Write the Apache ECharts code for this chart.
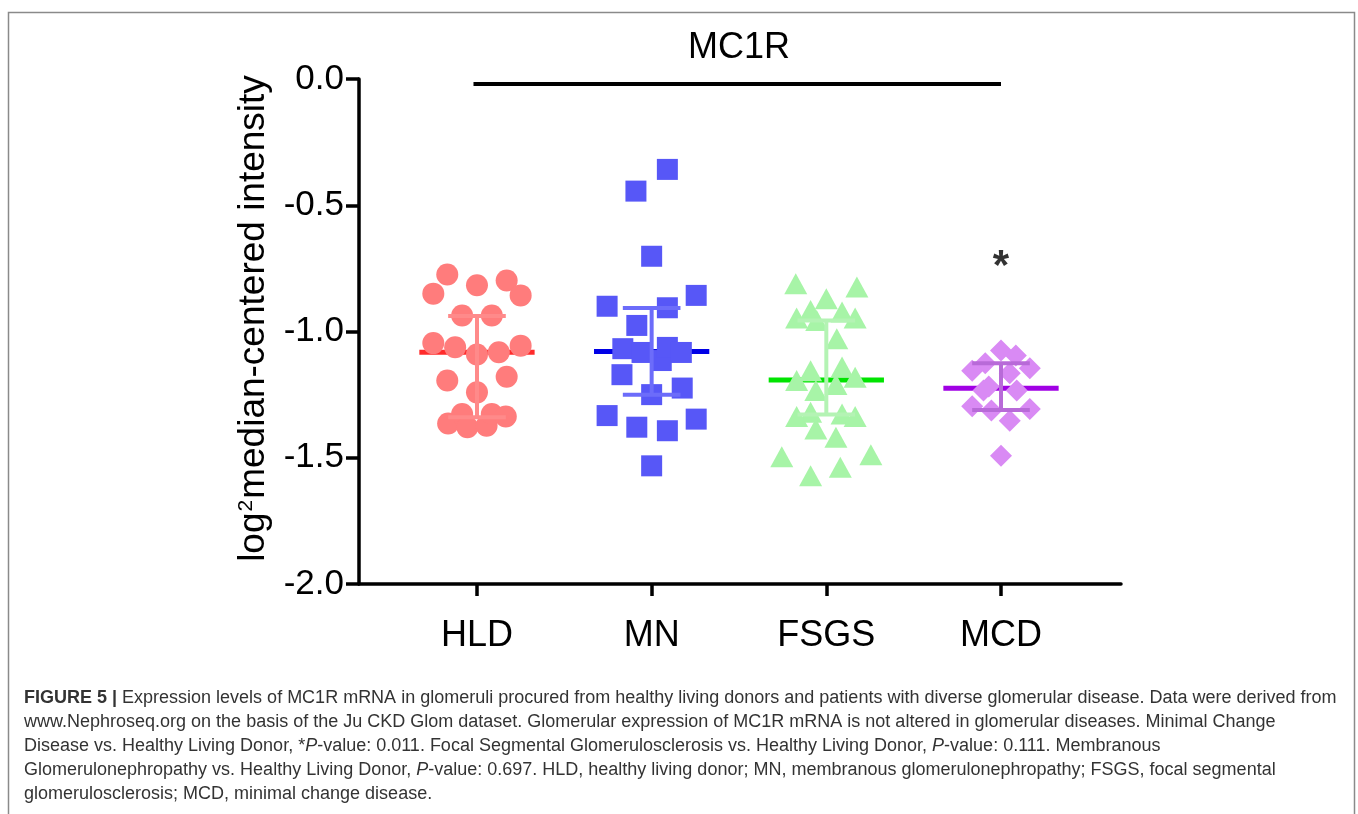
<!DOCTYPE html>
<html>
<head>
<meta charset="utf-8">
<script src="https://cdn.jsdelivr.net/npm/echarts@6/dist/echarts.min.js"></script>
<style>
html,body{margin:0;padding:0;background:#fff;}
#chart{width:1358px;height:814px;}
</style>
</head>
<body>
<div id="chart"></div>
<script>
// ---------------- data ----------------
const categories = ['HLD', 'MN', 'FSGS', 'MCD'];
const chartTitle = 'MC1R';
const yTicks = [0, -0.5, -1.0, -1.5, -2.0];

// horizontal scatter offsets (in category units) and values
const hldOffsets = [-0.17, -0.25, 0, 0.17, 0.25, -0.085, 0.085, -0.25, -0.125, 0, 0.125, 0.25, -0.17, 0.17, 0, -0.165, -0.085, -0.055, 0.055, 0.085, 0.165];
const hldValues  = [-0.774, -0.850, -0.817, -0.798, -0.857, -0.937, -0.937, -1.046, -1.062, -1.091, -1.082, -1.056, -1.194, -1.179, -1.241, -1.364, -1.327, -1.379, -1.373, -1.327, -1.337];

const mnOffsets = [0.09, -0.09, 0, 0.255, -0.255, 0.09, -0.085, -0.165, -0.055, 0.055, 0.09, 0.17, -0.17, 0.175, 0, -0.255, -0.085, 0.09, 0.255, 0];
const mnValues  = [-0.358, -0.444, -0.702, -0.857, -0.900, -0.906, -0.976, -1.068, -1.083, -1.115, -1.063, -1.083, -1.171, -1.224, -1.250, -1.333, -1.379, -1.393, -1.347, -1.532];

const fsgsOffsets = [-0.175, 0.175, 0, -0.09, 0.09, -0.17, 0.165, -0.055, 0.06, -0.09, 0.09, -0.17, 0.165, 0.055, -0.06, -0.09, -0.17, 0.09, 0.165, -0.06, 0.055, -0.255, 0.255, 0.08, -0.09];
const fsgsValues  = [-0.811, -0.824, -0.870, -0.917, -0.923, -0.947, -0.947, -0.956, -1.029, -1.155, -1.141, -1.194, -1.181, -1.210, -1.234, -1.320, -1.337, -1.327, -1.337, -1.386, -1.419, -1.496, -1.488, -1.538, -1.571];

const mcdOffsets = [0, 0.085, -0.09, -0.165, 0.165, 0.05, -0.07, -0.10, 0.09, -0.165, -0.055, 0.165, 0.05, 0];
const mcdValues  = [-1.075, -1.095, -1.126, -1.155, -1.146, -1.165, -1.218, -1.234, -1.234, -1.296, -1.313, -1.307, -1.353, -1.492];

// median and interquartile range per group
const medians = [-1.082, -1.079, -1.192, -1.225];
const q1s     = [-1.340, -1.250, -1.329, -1.311];
const q3s     = [-0.939, -0.907, -0.956, -1.126];

// significance bracket and marker
const bracketFrom = 1, bracketTo = 4, bracketValue = -0.02;
const sigMarks = [[4, -0.71]];
const sigText = '*';

// caption
const captionLines = [
  '{b|FIGURE 5 |} Expression levels of MC1R mRNA in glomeruli procured from healthy living donors and patients with diverse glomerular disease. Data were derived from',
  'www.Nephroseq.org on the basis of the Ju CKD Glom dataset. Glomerular expression of MC1R mRNA is not altered in glomerular diseases. Minimal Change',
  'Disease vs. Healthy Living Donor, *{i|P}-value: 0.011. Focal Segmental Glomerulosclerosis vs. Healthy Living Donor, {i|P}-value: 0.111. Membranous',
  'Glomerulonephropathy vs. Healthy Living Donor, {i|P}-value: 0.697. HLD, healthy living donor; MN, membranous glomerulonephropathy; FSGS, focal segmental',
  'glomerulosclerosis; MCD, minimal change disease.'
];

// ---------------- styling ----------------
const FONT = '"Liberation Sans", Arial, Helvetica, sans-serif';
const pointColors  = ['#FF7C7C', '#5757F7', '#A7F4A7', '#D98AF4'];
const medianColors = ['#FF2B2B', '#0000E6', '#00E400', '#A000E4'];
const whiskerColors= ['#FF8A8A', '#6C6CFA', '#B4F3B4', '#B86AD8'];
const symbols = ['circle', 'rect', 'triangle', 'diamond'];
const symbolSizes = [22, 21, [23, 21], 22];
const MED_HALF = 0.33, CAP_HALF = 0.165;
const CAPTION_SIZE = 18;

const groups = [
  [hldOffsets, hldValues],
  [mnOffsets, mnValues],
  [fsgsOffsets, fsgsValues],
  [mcdOffsets, mcdValues]
];

const scatterSeries = groups.map((g, i) => ({
  type: 'scatter',
  name: categories[i],
  symbol: symbols[i],
  symbolSize: symbolSizes[i],
  itemStyle: { color: pointColors[i], opacity: 1 },
  z: 3,
  silent: true,
  data: g[1].map((v, k) => [i + 1 + g[0][k], v])
}));

const statData = categories.map((c, i) => [i + 1, medians[i], q1s[i], q3s[i]]);

const medianSeries = {
  type: 'custom',
  z: 2,
  silent: true,
  data: statData,
  renderItem: function (params, api) {
    const x = api.value(0), m = api.value(1);
    const a = api.coord([x - MED_HALF, m]), b = api.coord([x + MED_HALF, m]);
    return { type: 'line', shape: { x1: a[0], y1: a[1], x2: b[0], y2: b[1] },
      style: { stroke: medianColors[params.dataIndex], lineWidth: 5 } };
  }
};

const whiskerSeries = {
  type: 'custom',
  z: 4,
  silent: true,
  data: statData,
  renderItem: function (params, api) {
    const x = api.value(0), lo = api.value(2), hi = api.value(3);
    const col = whiskerColors[params.dataIndex];
    const top = api.coord([x, hi]), bot = api.coord([x, lo]);
    const tl = api.coord([x - CAP_HALF, hi]), tr = api.coord([x + CAP_HALF, hi]);
    const bl = api.coord([x - CAP_HALF, lo]), br = api.coord([x + CAP_HALF, lo]);
    const st = { stroke: col, lineWidth: 4 };
    return { type: 'group', children: [
      { type: 'line', shape: { x1: top[0], y1: top[1], x2: bot[0], y2: bot[1] }, style: st },
      { type: 'line', shape: { x1: tl[0], y1: tl[1], x2: tr[0], y2: tr[1] }, style: st },
      { type: 'line', shape: { x1: bl[0], y1: bl[1], x2: br[0], y2: br[1] }, style: st }
    ] };
  }
};

const bracketSeries = {
  type: 'line',
  silent: true,
  symbol: 'none',
  z: 5,
  lineStyle: { color: '#000', width: 4 },
  data: [[bracketFrom - 0.02, bracketValue], [bracketTo, bracketValue]]
};

const sigSeries = {
  type: 'scatter',
  silent: true,
  symbolSize: 0,
  z: 6,
  data: sigMarks,
  label: { show: true, position: 'inside', formatter: sigText, offset: [0, 9],
    fontFamily: FONT, fontWeight: 'bold', fontSize: 42, color: '#000' }
};

const captionGraphics = captionLines.map((t, i) => ({
  type: 'text',
  left: 24,
  top: 689 + i * 24,
  silent: true,
  style: {
    text: t,
    font: CAPTION_SIZE + 'px ' + FONT,
    fill: '#333',
    rich: {
      b: { fontWeight: 'bold', fontSize: CAPTION_SIZE, fontFamily: FONT, fill: '#333' },
      i: { fontStyle: 'italic', fontSize: CAPTION_SIZE, fontFamily: FONT, fill: '#333' }
    }
  }
}));

const chart = echarts.init(document.getElementById('chart'), null, { renderer: 'canvas' });
chart.setOption({
  animation: false,
  backgroundColor: '#fff',
  title: {
    text: chartTitle,
    left: 734,
    top: 25,
    textAlign: 'center',
    textStyle: { fontFamily: FONT, fontSize: 36, fontWeight: 'normal', color: '#000' }
  },
  grid: { left: 359, right: 237, top: 79, bottom: 230, containLabel: false },
  xAxis: {
    type: 'value',
    min: 0.3246,
    max: 4.687,
    splitLine: { show: false },
    axisLine: { show: true, onZero: false, lineStyle: { color: '#000', width: 3.5 } },
    axisTick: { show: true, inside: false, length: 12, customValues: [1, 2, 3, 4], lineStyle: { color: '#000', width: 3.5 } },
    axisLabel: {
      show: true, customValues: [1, 2, 3, 4], margin: 34,
      formatter: v => categories[Math.round(v) - 1] || '',
      fontFamily: FONT, fontSize: 36, color: '#000'
    }
  },
  yAxis: {
    type: 'value',
    min: -2,
    max: 0,
    interval: 0.5,
    splitLine: { show: false },
    axisLine: { show: true, onZero: false, lineStyle: { color: '#000', width: 3.5 } },
    axisTick: { show: true, inside: false, length: 13, lineStyle: { color: '#000', width: 3.5 } },
    axisLabel: {
      margin: 15,
      formatter: v => (Math.abs(v) < 1e-9 ? 0 : v).toFixed(1),
      fontFamily: FONT, fontSize: 35, color: '#000'
    },
    name: '{a|log}{s|2}{a|median-centered intensity}',
    nameLocation: 'middle',
    nameRotate: 90,
    nameGap: 68,
    nameTextStyle: {
      fontFamily: FONT, fontSize: 37, color: '#000',
      padding: [0, 0, 0, 26],
      rich: {
        a: { fontFamily: FONT, fontSize: 37, color: '#000' },
        s: { fontFamily: FONT, fontSize: 21, color: '#000', verticalAlign: 'top', padding: [0, 1, 16, 1] }
      }
    }
  },
  graphic: [
    { type: 'rect', silent: true, z: -10,
      shape: { x: 8.5, y: 12.5, width: 1346, height: 820 },
      style: { fill: 'none', stroke: '#8a8a8a', lineWidth: 1.5 } }
  ].concat(captionGraphics),
  series: [medianSeries].concat(scatterSeries, [whiskerSeries, bracketSeries, sigSeries])
});
</script>
</body>
</html>
